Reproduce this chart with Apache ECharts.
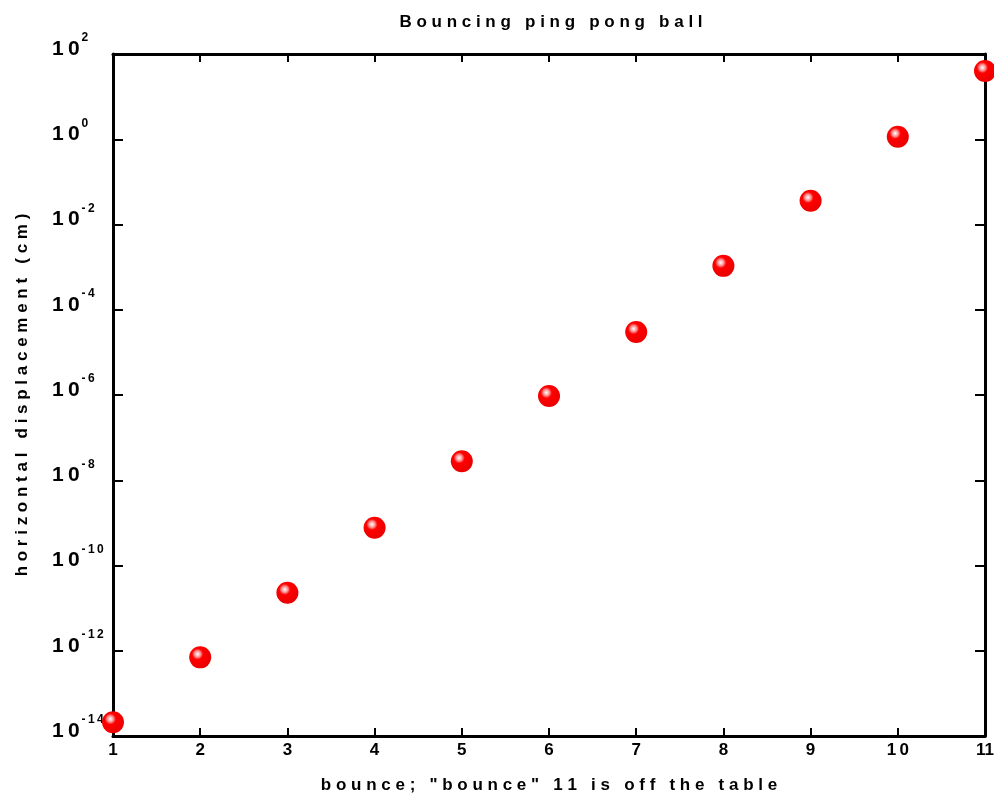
<!DOCTYPE html>
<html>
<head>
    <meta charset="utf-8">
    <title>Bouncing ping pong ball</title>
    <script src="https://cdn.jsdelivr.net/npm/echarts@6/dist/echarts.min.js"></script>
</head>
<body style="margin:0">
<div id="main" style="width: 994px;height:800px;"></div>
<script type="text/javascript">
    // bounce number and horizontal displacement (cm)
    var bounces = [1, 2, 3, 4, 5, 6, 7, 8, 9, 10, 11];
    var displacement = [2.1e-14, 7.0e-13, 2.3e-11, 7.7e-10, 2.8e-8, 9.5e-7, 3.0e-5, 1.07e-3, 3.6e-2, 1.15, 40];
    var xTicks = [1, 2, 3, 4, 5, 6, 7, 8, 9, 10, 11];

    var FONT = '"Liberation Sans", Arial, sans-serif';

    // the original spreads its letters out
    function spaced(s, gap) {
        return s.split('').join(gap || ' ');
    }

    var chartDom = document.getElementById('main');
    var myChart = echarts.init(chartDom);

    var option = {
        backgroundColor: '#fff',
        title: {
            text: spaced('Bouncing ping pong ball'),
            left: 546,
            textAlign: 'center',
            top: 9,
            textStyle: {fontFamily: FONT, fontWeight: 'bold', fontSize: 17, color: '#000'}
        },
        grid: {left: 113, right: 9, top: 54, bottom: 64, outerBoundsMode: 'none', containLabel: false},
        xAxis: [{
            type: 'value',
            min: 1,
            max: 11,
            interval: 1,
            name: spaced('bounce; "bounce" 11 is off the table'),
            nameLocation: 'middle',
            nameGap: 41,
            nameMoveOverlap: false,
            nameTextStyle: {fontFamily: FONT, fontWeight: 'bold', fontSize: 17, color: '#000'},
            axisLine: {show: true, lineStyle: {color: '#000', width: 3}},
            axisTick: {inside: true, length: 8, lineStyle: {color: '#000', width: 2}},
            axisLabel: {
                fontFamily: FONT, fontWeight: 'bold', fontSize: 17, color: '#000', margin: 6,
                formatter: function (v) {
                    if (xTicks.indexOf(v) < 0) return '';
                    return v === 11 ? '11' : spaced(String(v), '\u2009');
                }
            },
            splitLine: {show: false}
        }, {
            type: 'value',
            position: 'top',
            min: 1,
            max: 11,
            interval: 1,
            axisLine: {show: true, lineStyle: {color: '#000', width: 3}},
            axisTick: {inside: true, length: 8, lineStyle: {color: '#000', width: 2}},
            axisLabel: {show: false},
            splitLine: {show: false}
        }],
        yAxis: [{
            type: 'log',
            logBase: 10,
            min: 1e-14,
            max: 1e2,
            interval: 2,
            name: spaced('horizontal displacement (cm)'),
            nameLocation: 'middle',
            nameGap: 82,
            nameMoveOverlap: false,
            nameTextStyle: {fontFamily: FONT, fontWeight: 'bold', fontSize: 17, color: '#000'},
            axisLine: {show: true, lineStyle: {color: '#000', width: 3}},
            axisTick: {inside: true, length: 10, lineStyle: {color: '#000', width: 2}},
            minorTick: {show: false},
            axisLabel: {
                margin: 61,
                align: 'left',
                padding: [0, 0, 16, 0],
                formatter: function (v) {
                    var e = Math.round(Math.log10(v));
                    return '{b|' + spaced('10', '\u2009') + '}{sup|' + spaced(String(e), '\u2009') + '}';
                },
                rich: {
                    b: {fontFamily: FONT, fontWeight: 'bold', fontSize: 21, color: '#000', padding: [6, 2, 0, 0]},
                    sup: {fontFamily: FONT, fontWeight: 'bold', fontSize: 12, color: '#000', padding: [0, 0, 16, 0]}
                }
            },
            splitLine: {show: false}
        }, {
            type: 'log',
            logBase: 10,
            position: 'right',
            min: 1e-14,
            max: 1e2,
            interval: 2,
            axisLine: {show: true, lineStyle: {color: '#000', width: 3}},
            axisTick: {inside: true, length: 10, lineStyle: {color: '#000', width: 2}},
            minorTick: {show: false},
            axisLabel: {show: false},
            splitLine: {show: false}
        }],
        series: [{
            type: 'scatter',
            xAxisIndex: 0,
            yAxisIndex: 0,
            clip: false,
            symbolSize: 22,
            data: bounces.map(function (b, i) { return [b, displacement[i]]; }),
            itemStyle: {
                color: {
                    type: 'radial', x: 0.38, y: 0.35, r: 0.7,
                    colorStops: [
                        {offset: 0, color: '#ffffff'},
                        {offset: 0.2, color: '#ff9090'},
                        {offset: 0.36, color: '#ff0000'},
                        {offset: 1, color: '#e80000'}
                    ]
                },
                opacity: 1
            }
        }]
    };

    myChart.setOption(option);
</script>
</body>
</html>
